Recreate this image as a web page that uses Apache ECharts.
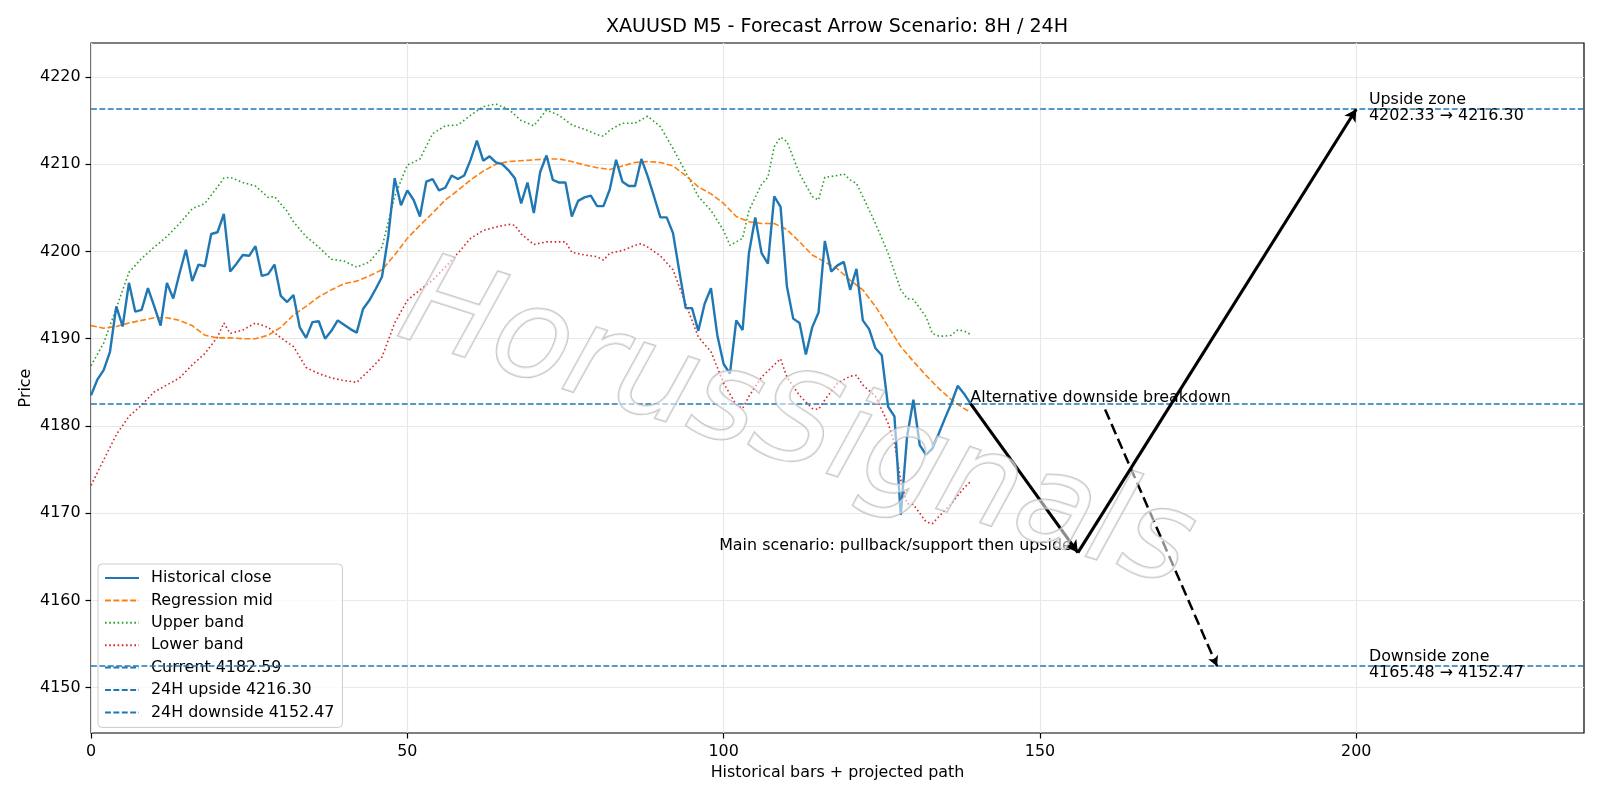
<!DOCTYPE html>
<html><head><meta charset="utf-8">
<script src="https://cdn.jsdelivr.net/npm/echarts@6/dist/echarts.min.js"></script>
<style>html,body{margin:0;padding:0;background:#fff}#c{width:1600px;height:800px}</style>
</head><body><div id="c"></div>
<script>
// ---- data ----
const closeValues = [
4183.5,4185.3,4186.4,4188.5,4193.7,4191.4,4196.4,4193.1,4193.3,4195.8,
4193.7,4191.5,4196.4,4194.6,4197.5,4200.2,4196.6,4198.5,4198.3,4202.0,
4202.2,4204.3,4197.7,4198.6,4199.6,4199.5,4200.6,4197.2,4197.4,4198.5,
4194.9,4194.2,4195.0,4191.3,4190.1,4191.9,4192.0,4190.0,4190.9,4192.1,
4191.6,4191.1,4190.7,4193.4,4194.4,4195.7,4197.1,4201.8,4208.4,4205.3,
4207.0,4205.9,4204.0,4208.0,4208.3,4207.0,4207.3,4208.7,4208.3,4208.7,
4210.5,4212.7,4210.4,4210.9,4210.2,4210.0,4209.3,4208.4,4205.5,4207.9,
4204.4,4209.1,4211.0,4208.2,4207.9,4207.9,4204.0,4205.8,4206.2,4206.4,
4205.2,4205.2,4207.1,4210.5,4208.0,4207.5,4207.5,4210.6,4208.6,4206.3,
4203.9,4203.9,4202.1,4197.7,4193.5,4193.5,4190.9,4194.0,4195.8,4190.4,
4187.1,4186.0,4192.1,4191.0,4199.8,4203.9,4199.8,4198.6,4206.3,4205.1,
4196.0,4192.3,4191.8,4188.2,4191.3,4193.0,4201.2,4197.7,4198.4,4198.8,
4195.6,4198.0,4192.1,4191.1,4188.9,4188.1,4182.2,4181.1,4169.8,4178.8,
4183.0,4177.8,4176.7,4177.4,4179.1,4180.9,4182.6,4184.6,4183.7,4182.59
];
const midX = [0,2,4,6,8,10,12,14,16,18,20,22,24,26,28,30,32,34,36,38,40,42,44,46,48,50,52,54,56,58,60,62,64,66,68,70,72,74,76,78,80,82,84,86,88,90,92,94,96,98,100,102,104,106,108,110,112,114,116,118,120,122,124,126,128,130,132,134,136,138,139];
const midY = [4191.5,4191.2,4191.4,4191.8,4192.1,4192.4,4192.4,4192.1,4191.5,4190.4,4190.1,4190.1,4190.0,4190.0,4190.4,4191.3,4192.7,4193.7,4194.8,4195.6,4196.3,4196.6,4197.2,4197.9,4199.6,4201.5,4203.0,4204.4,4205.9,4207.0,4208.2,4209.2,4210.0,4210.3,4210.4,4210.5,4210.6,4210.6,4210.3,4209.9,4209.6,4209.4,4209.8,4210.2,4210.3,4210.2,4209.8,4208.7,4207.4,4206.6,4205.5,4204.0,4203.4,4203.2,4203.2,4202.5,4201.1,4199.6,4198.8,4198.0,4196.7,4195.6,4193.7,4191.4,4189.1,4187.4,4185.8,4184.3,4183.0,4182.0,4181.6];
const upperX = [0,2,4,6,8,10,12,14,16,18,20,21,22,24,26,28,29,31,32,34,36,38,40,42,44,46,48,50,52,54,56,58,60,62,64,66,68,70,72,74,76,78,80,81,82,84,86,88,90,92,94,96,98,100,101,102,103,104,106,107,108,109,110,112,114,115,116,118,119,120,121,122,124,126,128,129,130,132,133,134,135,136,137,138,139];
const upperY = [4186.9,4189.5,4193.5,4197.6,4199.2,4200.5,4201.7,4203.2,4204.9,4205.5,4207.4,4208.4,4208.5,4207.9,4207.5,4206.2,4206.3,4204.6,4203.4,4201.7,4200.5,4199.1,4198.9,4198.2,4198.8,4200.5,4206.3,4209.9,4210.6,4213.5,4214.4,4214.5,4215.6,4216.6,4216.9,4216.3,4215.0,4214.4,4216.2,4215.6,4214.5,4214.0,4213.4,4213.2,4213.9,4214.7,4214.7,4215.5,4214.3,4211.8,4209.1,4206.3,4204.7,4202.4,4200.7,4201.1,4201.5,4204.7,4207.7,4208.5,4212.0,4213.1,4212.6,4208.9,4206.3,4205.9,4208.5,4208.7,4208.9,4208.2,4207.8,4206.3,4203.2,4199.8,4195.6,4194.6,4194.5,4192.5,4190.6,4190.3,4190.3,4190.4,4191.0,4190.9,4190.5];
const lowerX = [0,2,4,6,8,10,12,14,16,18,20,21,22,24,26,28,30,32,34,36,38,40,42,44,46,48,50,52,54,56,58,60,62,64,66,67,68,70,72,74,75,76,78,80,81,82,84,86,87,88,90,92,94,96,98,100,102,103,104,106,108,109,110,112,114,115,116,118,120,121,122,124,126,127,128,129,130,131,132,133,134,136,138,139];
const lowerY = [4173.2,4176.1,4179.0,4181.1,4182.4,4183.9,4184.7,4185.5,4187.0,4188.3,4190.2,4191.8,4190.6,4191.0,4191.8,4191.3,4190.1,4189.1,4186.7,4186.0,4185.5,4185.2,4185.0,4186.4,4187.9,4191.8,4194.4,4195.6,4196.7,4198.2,4199.8,4201.5,4202.4,4202.8,4203.1,4203.0,4202.0,4200.8,4201.1,4201.1,4201.1,4199.9,4199.6,4199.4,4199.0,4199.8,4200.1,4200.7,4200.9,4200.5,4199.5,4197.9,4194.0,4190.2,4188.5,4184.9,4182.4,4182.0,4183.4,4185.6,4187.0,4187.7,4185.6,4183.5,4182.0,4181.9,4183.0,4184.9,4185.7,4185.8,4184.7,4183.4,4180.3,4178.0,4173.8,4171.1,4171.0,4170.0,4169.0,4168.8,4169.6,4171.1,4172.9,4173.6];
const currentLevel = 4182.59;
const upsideLevel = 4216.30;
const downsideLevel = 4152.47;
const mainPathX = [139, 156, 200];
const mainPathY = [4182.59, 4165.48, 4216.30];
const altArrowX = [160.3, 178];
const altArrowY = [4181.9, 4152.47];
const yTicks = [4150,4160,4170,4180,4190,4200,4210,4220];
const xTicks = [0,50,100,150,200];
const annoX = [139, 156, 202, 202];
const annoY = [4182.59, 4165.48, 4216.30, 4152.47];
const annoText = ['Alternative downside breakdown','Main scenario: pullback/support then upside','Upside zone\n4202.33 \u2192 4216.30','Downside zone\n4165.48 \u2192 4152.47'];
const seriesNames = ['Historical close','Regression mid','Upper band','Lower band','Current 4182.59','24H upside 4216.30','24H downside 4152.47'];

// ---- build ----
const FONT = 'DejaVu Sans';
const FS = 15.9;
const zip = (xs, ys) => xs.map((x, i) => [x, ys[i]]);
const blue = '#1f77b4';
const hDash = [5.9, 2.5];
function hline(name, v) {
  return {
    name, type: 'line', data: [], symbol: 'none', silent: true,
    lineStyle: { color: blue, width: 1.6, type: hDash },
    itemStyle: { color: blue },
    markLine: { silent: true, symbol: ['none','none'], label: { show: false },
      lineStyle: { color: blue, width: 1.6, type: hDash }, emphasis: { disabled: true },
      data: [{ yAxis: v }] }
  };
}
function arrow(x0, y0, x1, y1, style, size) {
  return [{ coord: [x0, y0], symbol: 'none', lineStyle: style },
          { coord: [x1, y1], symbol: 'arrow', symbolSize: size }];
}
const solidArrow = { color: '#000', width: 3.1, type: 'solid' };
const dashArrow = { color: '#000', width: 2.5, type: [11, 5] };

const annoLabels = [
  { align: 'left', verticalAlign: 'middle', position: [0, -5.5] },
  { align: 'right', verticalAlign: 'middle', position: [-6, -6.7] },
  { align: 'left', verticalAlign: 'middle', position: [0, -1] },
  { align: 'left', verticalAlign: 'middle', position: [0, -1] }
];

const option = {
  animation: false,
  backgroundColor: '#fff',
  textStyle: { fontFamily: FONT },
  title: { text: 'XAUUSD M5 - Forecast Arrow Scenario: 8H / 24H', left: 832, top: 13, textAlign: 'center',
    textStyle: { fontFamily: FONT, fontSize: 19.1, fontWeight: 'normal', color: '#000' } },
  grid: { left: 91, right: 16, top: 43, bottom: 67, show: true, borderColor: '#000', borderWidth: 1.2, backgroundColor: 'transparent' },
  legend: {
    data: seriesNames, orient: 'vertical', left: 98, top: 564,
    itemWidth: 34, itemHeight: 16, itemGap: 6.4,
    padding: [6, 8, 7, 6],
    itemStyle: { opacity: 0, borderWidth: 0 },
    backgroundColor: 'rgba(255,255,255,0.8)', borderColor: '#cccccc', borderWidth: 1, borderRadius: 4,
    textStyle: { fontFamily: FONT, fontSize: FS, color: '#000', padding: [0, 0, 0, 7] }
  },
  xAxis: {
    type: 'value', min: 0, max: 236,
    name: 'Historical bars + projected path', nameLocation: 'middle', nameGap: 32,
    nameTextStyle: { fontFamily: FONT, fontSize: FS, color: '#000' },
    axisLine: { show: false },
    axisTick: { show: true, length: 5.5, lineStyle: { color: '#000', width: 1.2 }, customValues: xTicks },
    axisLabel: { fontFamily: FONT, fontSize: FS, color: '#000', margin: 11, customValues: xTicks, formatter: v => String(v) },
    splitLine: { show: true, lineStyle: { color: '#e8e8e8', width: 1.2 } }
  },
  yAxis: {
    type: 'value', min: 4144.81, max: 4223.89,
    name: 'Price', nameLocation: 'middle', nameGap: 57, nameRotate: 90, nameMoveOverlap: false,
    nameTextStyle: { fontFamily: FONT, fontSize: FS, color: '#000' },
    axisLine: { show: false },
    axisTick: { show: true, length: 5.5, lineStyle: { color: '#000', width: 1.2 }, customValues: yTicks },
    axisLabel: { fontFamily: FONT, fontSize: FS, color: '#000', margin: 10.5, customValues: yTicks, formatter: v => String(v) },
    splitLine: { show: true, lineStyle: { color: '#e8e8e8', width: 1.2 } }
  },
  series: [
    { name: seriesNames[0], type: 'line', symbol: 'none', z: 5,
      data: closeValues.map((v, i) => [i, v]),
      lineStyle: { color: blue, width: 2.4 }, itemStyle: { color: blue } },
    { name: seriesNames[1], type: 'line', symbol: 'none', z: 4,
      data: zip(midX, midY),
      lineStyle: { color: '#ff7f0e', width: 1.6, type: [5.9, 2.5] }, itemStyle: { color: '#ff7f0e' } },
    { name: seriesNames[2], type: 'line', symbol: 'none', z: 3,
      data: zip(upperX, upperY),
      lineStyle: { color: '#2ca02c', width: 1.6, type: [1.6, 2.6] }, itemStyle: { color: '#2ca02c' } },
    { name: seriesNames[3], type: 'line', symbol: 'none', z: 3,
      data: zip(lowerX, lowerY),
      lineStyle: { color: '#d62728', width: 1.6, type: [1.6, 2.6] }, itemStyle: { color: '#d62728' } },
    hline(seriesNames[4], currentLevel),
    hline(seriesNames[5], upsideLevel),
    hline(seriesNames[6], downsideLevel),
    { name: 'arrows', type: 'line', data: [], symbol: 'none', silent: true, z: 6,
      markLine: { silent: true, label: { show: false }, emphasis: { disabled: true },
        data: [
          arrow(mainPathX[0], mainPathY[0], mainPathX[1], mainPathY[1], solidArrow, [10, 12]),
          arrow(mainPathX[1], mainPathY[1], mainPathX[2], mainPathY[2], solidArrow, [10, 12]),
          arrow(altArrowX[0], altArrowY[0], altArrowX[1], altArrowY[1], dashArrow, [8, 10])
        ] } },
    { name: 'annotations', type: 'scatter', symbolSize: 0, silent: true, z: 7,
      itemStyle: { opacity: 1 },
      data: annoX.map((x, i) => ({ value: [x, annoY[i]],
        label: Object.assign({ show: true, formatter: annoText[i], fontFamily: FONT, fontSize: FS, color: '#000', opacity: 1, lineHeight: 16 }, annoLabels[i]) })) }
  ],
  graphic: [{
    type: 'text', x: 796, y: 429, rotation: -0.31, z: 100, silent: true,
    style: { text: 'HorusSignals', fontFamily: FONT, fontStyle: 'italic', fontSize: 126,
      align: 'center', verticalAlign: 'middle',
      fill: 'rgba(255,255,255,0.55)', stroke: 'rgba(175,175,175,0.7)', lineWidth: 2,
      shadowColor: 'rgba(0,0,0,0.16)', shadowBlur: 2, shadowOffsetX: 2, shadowOffsetY: 2 }
  }]
};
const chart = echarts.init(document.getElementById('c'), null, { renderer: 'canvas' });
chart.setOption(option);
</script></body></html>
